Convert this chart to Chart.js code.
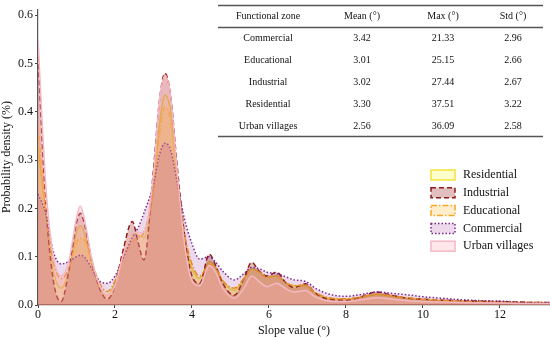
<!DOCTYPE html>
<html>
<head>
<meta charset="utf-8">
<script src="https://cdn.jsdelivr.net/npm/chart.js@4.4.1/dist/chart.umd.min.js"></script>
<style>
html, body { margin: 0; padding: 0; background: #fff; }
#wrap { width: 550px; height: 338px; position: relative; }
</style>
</head>
<body>
<div id="wrap"><canvas id="densityChart"></canvas></div>
<script>
// slope grid (degrees) shared by every density curve
const slopeValues = [0, 0.2, 0.4, 0.6, 0.8, 1.0, 1.1, 1.2, 1.4, 1.6, 1.8, 2.0, 2.2, 2.45, 2.6, 2.75,
    3.0, 3.15, 3.3, 3.45, 3.6, 3.8, 4.0, 4.2, 4.45, 4.6, 4.8, 5.1, 5.35, 5.55, 5.75, 5.95,
    6.2, 6.45, 6.65, 6.95, 7.2, 7.5, 8.0, 8.4, 8.8, 9.2, 9.6, 10, 10.5, 11, 11.5, 12, 12.5, 13, 13.3];

const residential = [0.33, 0.19, 0.07, 0.035, 0.07, 0.15, 0.164, 0.15, 0.085, 0.035, 0.02, 0.045, 0.10, 0.15, 0.145, 0.14,
    0.24, 0.37, 0.435, 0.40, 0.28, 0.14, 0.075, 0.055, 0.09, 0.08, 0.05, 0.03, 0.055, 0.075, 0.068, 0.058,
    0.06, 0.045, 0.04, 0.04, 0.025, 0.015, 0.012, 0.016, 0.022, 0.018, 0.014, 0.011, 0.009, 0.008, 0.007, 0.006, 0.005, 0.005, 0.004];

const industrial = [0.515, 0.21, 0.05, 0.007, 0.07, 0.17, 0.19, 0.17, 0.09, 0.035, 0.012, 0.04, 0.11, 0.173, 0.13, 0.093,
    0.28, 0.42, 0.48, 0.43, 0.30, 0.15, 0.06, 0.045, 0.105, 0.085, 0.045, 0.02, 0.055, 0.088, 0.07, 0.06,
    0.068, 0.045, 0.036, 0.044, 0.025, 0.013, 0.01, 0.017, 0.027, 0.02, 0.014, 0.012, 0.01, 0.009, 0.008, 0.007, 0.006, 0.005, 0.005];

const educational = [0.375, 0.2, 0.09, 0.055, 0.075, 0.13, 0.138, 0.135, 0.09, 0.045, 0.028, 0.05, 0.095, 0.13, 0.14, 0.15,
    0.24, 0.35, 0.41, 0.38, 0.27, 0.15, 0.085, 0.06, 0.085, 0.078, 0.05, 0.035, 0.055, 0.074, 0.068, 0.058,
    0.06, 0.046, 0.04, 0.042, 0.026, 0.016, 0.013, 0.017, 0.023, 0.019, 0.015, 0.012, 0.01, 0.008, 0.007, 0.006, 0.005, 0.005, 0.004];

const commercial = [0.23, 0.19, 0.11, 0.085, 0.09, 0.10, 0.103, 0.10, 0.075, 0.05, 0.045, 0.06, 0.095, 0.14, 0.16, 0.19,
    0.25, 0.31, 0.335, 0.32, 0.26, 0.18, 0.127, 0.095, 0.10, 0.09, 0.07, 0.052, 0.065, 0.078, 0.075, 0.068,
    0.065, 0.058, 0.052, 0.049, 0.035, 0.024, 0.018, 0.022, 0.027, 0.024, 0.021, 0.017, 0.014, 0.011, 0.009, 0.008, 0.006, 0.005, 0.005];

const urbanVillages = [0.55, 0.25, 0.10, 0.06, 0.09, 0.18, 0.205, 0.18, 0.095, 0.04, 0.02, 0.04, 0.10, 0.15, 0.15, 0.15,
    0.27, 0.42, 0.475, 0.43, 0.29, 0.13, 0.05, 0.04, 0.082, 0.07, 0.035, 0.014, 0.035, 0.06, 0.048, 0.038,
    0.045, 0.033, 0.027, 0.03, 0.017, 0.009, 0.007, 0.011, 0.015, 0.012, 0.009, 0.007, 0.006, 0.005, 0.004, 0.004, 0.003, 0.003, 0.003];

// summary table
const tableHeader = ['Functional zone', 'Mean (°)', 'Max (°)', 'Std (°)'];
const zoneNames = ['Commercial', 'Educational', 'Industrial', 'Residential', 'Urban villages'];
const meanSlope = ['3.42', '3.01', '3.02', '3.30', '2.56'];
const maxSlope = ['21.33', '25.15', '27.44', '37.51', '36.09'];
const stdSlope = ['2.96', '2.66', '2.67', '3.22', '2.58'];

const xTickValues = [0, 2, 4, 6, 8, 10, 12];
const yTickValues = [0, 0.1, 0.2, 0.3, 0.4, 0.5, 0.6];

const SERIF = "'Liberation Serif', 'Times New Roman', serif";

function toPoints(values) {
    return values.map(function (v, i) { return { x: slopeValues[i], y: v }; });
}

// order: lower number is painted on top, so residential goes down first
function densitySet(label, values, line, fill, dash, order) {
    return {
        label: label,
        data: toPoints(values),
        borderColor: line,
        backgroundColor: fill,
        borderDash: dash,
        borderWidth: 1.5,
        fill: 'origin',
        pointRadius: 0,
        order: order,
        cubicInterpolationMode: 'monotone'
    };
}

// draws the inset table and the legend box
const overlayPlugin = {
    id: 'overlay',
    afterDraw: function (chart) {
        const ctx = chart.ctx;
        ctx.save();

        // table
        const left = 218, right = 543;
        const colX = [268, 362, 443, 513];
        ctx.strokeStyle = '#555';
        ctx.lineWidth = 1.3;
        [5, 27, 136].forEach(function (y) {
            ctx.beginPath();
            ctx.moveTo(left, y + 0.5);
            ctx.lineTo(right, y + 0.5);
            ctx.stroke();
        });
        ctx.fillStyle = '#111';
        ctx.font = '10px ' + SERIF;
        ctx.textAlign = 'center';
        ctx.textBaseline = 'middle';
        tableHeader.forEach(function (t, c) { ctx.fillText(t, colX[c], 16); });
        zoneNames.forEach(function (z, r) {
            const y = 38 + r * 22;
            ctx.fillText(z, colX[0], y);
            ctx.fillText(meanSlope[r], colX[1], y);
            ctx.fillText(maxSlope[r], colX[2], y);
            ctx.fillText(stdSlope[r], colX[3], y);
        });

        // legend
        ctx.font = '12px ' + SERIF;
        ctx.textAlign = 'left';
        chart.data.datasets.forEach(function (ds, i) {
            const y = 175 + i * 17.8;
            ctx.fillStyle = '#fff';
            ctx.fillRect(431, y - 5, 24, 10);
            ctx.fillStyle = ds.backgroundColor;
            ctx.fillRect(431, y - 5, 24, 10);
            ctx.setLineDash(ds.borderDash);
            ctx.strokeStyle = ds.borderColor;
            ctx.lineWidth = 1.5;
            ctx.strokeRect(431, y - 5, 24, 10);
            ctx.setLineDash([]);
            ctx.fillStyle = '#111';
            ctx.fillText(ds.label, 463, y);
        });
        ctx.restore();
    }
};

const chartConfig = {
    type: 'line',
    data: {
        datasets: [
            densitySet('Residential', residential, '#f2e33a', 'rgba(255, 245, 0, 0.2)', [], 5),
            densitySet('Industrial', industrial, '#8b1a1a', 'rgba(139, 0, 0, 0.25)', [5, 3], 4),
            densitySet('Educational', educational, '#f5a623', 'rgba(255, 165, 0, 0.2)', [6, 2, 1.5, 2], 3),
            densitySet('Commercial', commercial, '#7b2a8c', 'rgba(128, 0, 128, 0.15)', [1.5, 2], 2),
            densitySet('Urban villages', urbanVillages, '#f4b8c4', 'rgba(255, 170, 185, 0.28)', [], 1)
        ]
    },
    plugins: [overlayPlugin],
    options: {
        responsive: true,
        maintainAspectRatio: false,
        animation: false,
        layout: { padding: { top: 6, right: 0, left: 0, bottom: 0 } },
        plugins: {
            legend: { display: false },
            tooltip: { enabled: false }
        },
        scales: {
            x: {
                type: 'linear',
                min: 0,
                max: 13.3,
                afterFit: function (scale) { scale.height = 33; },
                afterBuildTicks: function (scale) {
                    scale.ticks = xTickValues.map(function (v) { return { value: v }; });
                },
                ticks: {
                    color: '#111',
                    font: { family: SERIF, size: 12 },
                    padding: 0,
                    maxRotation: 0,
                    callback: function (v) { return String(v); }
                },
                grid: { drawOnChartArea: false, drawTicks: true, tickLength: 3, color: '#444' },
                border: { display: true, color: '#555', width: 1.2 },
                title: {
                    display: true,
                    text: 'Slope value (°)',
                    color: '#111',
                    font: { family: SERIF, size: 12 },
                    padding: { top: 0, bottom: 0 }
                }
            },
            y: {
                min: 0,
                max: 0.6125,
                afterFit: function (scale) { scale.width = 38; },
                afterBuildTicks: function (scale) {
                    scale.ticks = yTickValues.map(function (v) { return { value: v }; });
                },
                ticks: {
                    color: '#111',
                    font: { family: SERIF, size: 12 },
                    padding: 2,
                    callback: function (v) { return v.toFixed(1); }
                },
                grid: { drawOnChartArea: false, drawTicks: true, tickLength: 3, color: '#444' },
                border: { display: true, color: '#555', width: 1.2 },
                title: {
                    display: true,
                    text: 'Probability density (%)',
                    color: '#111',
                    font: { family: SERIF, size: 12 },
                    padding: { top: 0, bottom: 0 }
                }
            }
        }
    }
};

window.onload = function () {
    const ctx = document.getElementById('densityChart').getContext('2d');
    window.densityChart = new Chart(ctx, chartConfig);
};
</script>
</body>
</html>
